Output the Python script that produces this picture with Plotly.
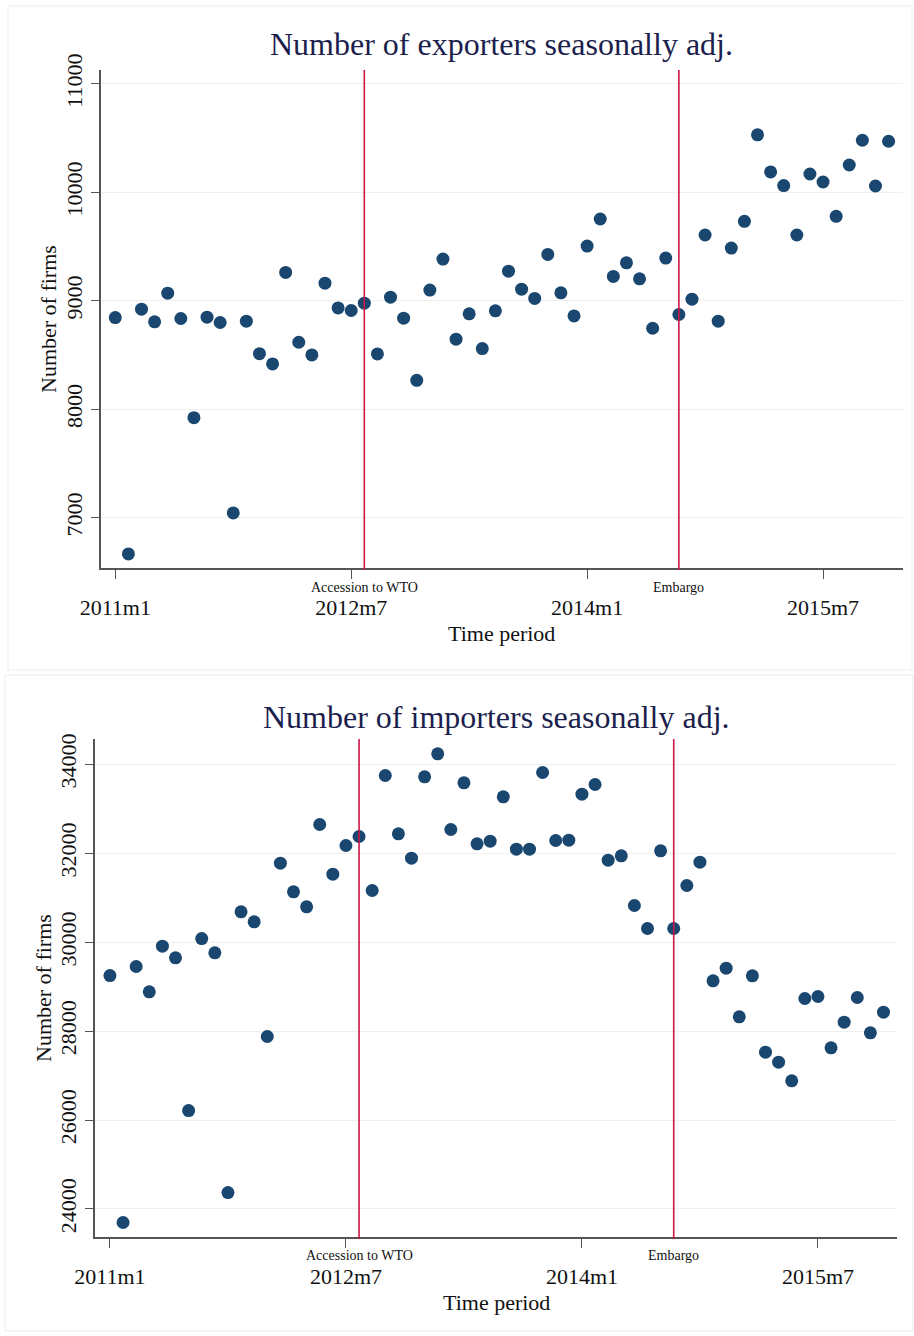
import plotly.graph_objects as go
from plotly.subplots import make_subplots

# Monthly periods, 2011m1 .. 2015m12
periods = [f"{y}m{m}" for y in range(2011, 2016) for m in range(1, 13)]

# Seasonally adjusted number of exporting firms
exporters = [8846, 6666, 8923, 8806, 9071, 8837, 7922, 8849, 8800, 7044,
             8812, 8513, 8418, 9262, 8618, 8501, 9163, 8935, 8911, 8978,
             8510, 9034, 8840, 8267, 9099, 9385, 8646, 8880, 8560, 8908,
             9274, 9108, 9022, 9428, 9074, 8861, 9505, 9755, 9225, 9351,
             9203, 8747, 9394, 8874, 9015, 9607, 8812, 9487, 9733, 10531,
             10189, 10063, 9607, 10170, 10096, 9779, 10253, 10481, 10059, 10472]

# Seasonally adjusted number of importing firms
importers = [29250, 23696, 29453, 28883, 29910, 29648, 26214, 30082, 29760, 24370,
             30682, 30457, 27879, 31777, 31132, 30795, 32646, 31529, 32174, 32376,
             31162, 33748, 32436, 31889, 33718, 34235, 32534, 33583, 32211, 32271,
             33268, 32091, 32091, 33816, 32286, 32294, 33328, 33546, 31844, 31942,
             30825, 30307, 32054, 30307, 31274, 31799, 29130, 29415, 28321, 29243,
             27526, 27301, 26882, 28733, 28778, 27624, 28201, 28756, 27961, 28426]

x_tick_labels = ["2011m1", "2012m7", "2014m1", "2015m7"]
exp_y_ticks = [7000, 8000, 9000, 10000, 11000]
imp_y_ticks = [24000, 26000, 28000, 30000, 32000, 34000]

event_labels = ["Accession to WTO", "Embargo"]
event_periods = ["2012m8", "2014m8"]

panel_titles = ["Number of exporters seasonally adj.", "Number of importers seasonally adj."]

W, H = 914, 1336
FONT = "Liberation Serif"
NAVY = "#1a476f"
RED = "#cc1747"
TITLE_COLOR = "#1c1f4d"

xs = list(range(len(periods)))
x_tick_vals = [periods.index(p) for p in x_tick_labels]
event_x = [periods.index(p) for p in event_periods]


def py(px):
    """Pixel row (from top) to paper y."""
    return 1 - px / H


def pxx(px):
    return px / W


fig = make_subplots(rows=2, cols=1)

panels = [
    dict(values=exporters, yticks=exp_y_ticks, yrange=[6536, 11129], xrange=[-1.09, 60.1],
         xdom=[pxx(101), pxx(903)], ydom=[py(568), py(70)],
         title_y=44, evlab_y=587, xtitle_y=633, ytitle_x=48),
    dict(values=importers, yticks=imp_y_ticks, yrange=[23370, 34569], xrange=[-1.14, 60.03],
         xdom=[pxx(95), pxx(897)], ydom=[py(1237), py(739)],
         title_y=717, evlab_y=1255, xtitle_y=1302, ytitle_x=43),
]

for i, p in enumerate(panels, start=1):
    fig.add_trace(go.Scatter(x=xs, y=p["values"], mode="markers",
                             marker=dict(size=13, color=NAVY, line=dict(width=0)),
                             showlegend=False, hoverinfo="x+y"),
                  row=i, col=1)
    xa = "xaxis" if i == 1 else f"xaxis{i}"
    ya = "yaxis" if i == 1 else f"yaxis{i}"
    fig.layout[xa].update(domain=p["xdom"], range=p["xrange"], tickmode="array",
                          tickvals=x_tick_vals, ticktext=x_tick_labels,
                          showgrid=False, zeroline=False, showline=True,
                          linecolor="#555555", linewidth=1.5, ticks="outside",
                          ticklen=9, tickwidth=1.3, tickcolor="#555555",
                          ticklabelstandoff=10, automargin=False,
                          tickfont=dict(family=FONT, size=22, color="#111111"))
    fig.layout[ya].update(domain=p["ydom"], range=p["yrange"], tickmode="array",
                          tickvals=p["yticks"], showgrid=True, gridcolor="#efefef",
                          gridwidth=1.2, zeroline=False, showline=True,
                          linecolor="#555555", linewidth=1.5, ticks="outside",
                          ticklen=8, tickwidth=1.3, tickcolor="#555555",
                          tickangle=-90, tickformat="d", automargin=False,
                          tickfont=dict(family=FONT, size=22, color="#111111"))

    xref = "x" if i == 1 else f"x{i}"
    yref = "y domain" if i == 1 else f"y{i} domain"
    cx = (p["xdom"][0] + p["xdom"][1]) / 2
    for lab, ex in zip(event_labels, event_x):
        fig.add_shape(type="line", xref=xref, yref=yref, x0=ex, x1=ex, y0=-0.004, y1=1,
                      line=dict(color=RED, width=1.6))
        fig.add_annotation(text=lab, xref=xref, yref="paper", x=ex, y=py(p["evlab_y"]),
                           showarrow=False, xanchor="center", yanchor="middle",
                           font=dict(family=FONT, size=14, color="#111111"))
    fig.add_annotation(text=panel_titles[i - 1], xref="paper", yref="paper",
                       x=cx, y=py(p["title_y"]), showarrow=False,
                       xanchor="center", yanchor="middle",
                       font=dict(family=FONT, size=32, color=TITLE_COLOR))
    fig.add_annotation(text="Time period", xref="paper", yref="paper",
                       x=cx, y=py(p["xtitle_y"]), showarrow=False,
                       xanchor="center", yanchor="middle",
                       font=dict(family=FONT, size=22, color="#111111"))
    fig.add_annotation(text="Number of firms", xref="paper", yref="paper",
                       x=pxx(p["ytitle_x"]), y=(p["ydom"][0] + p["ydom"][1]) / 2,
                       showarrow=False, textangle=-90,
                       xanchor="center", yanchor="middle",
                       font=dict(family=FONT, size=22, color="#111111"))

# faint frames around each panel
for x0, y0, x1, y1 in [(8, 6, 912, 670), (5, 675, 913, 1331)]:
    fig.add_shape(type="rect", xref="paper", yref="paper",
                  x0=pxx(x0), x1=pxx(x1), y0=py(y1), y1=py(y0),
                  line=dict(color="#ececec", width=1), fillcolor="rgba(0,0,0,0)",
                  layer="below")

fig.update_layout(width=W, height=H, margin=dict(l=0, r=0, t=0, b=0),
                  paper_bgcolor="white", plot_bgcolor="white",
                  font=dict(family=FONT))

fig.write_html("out.html")
